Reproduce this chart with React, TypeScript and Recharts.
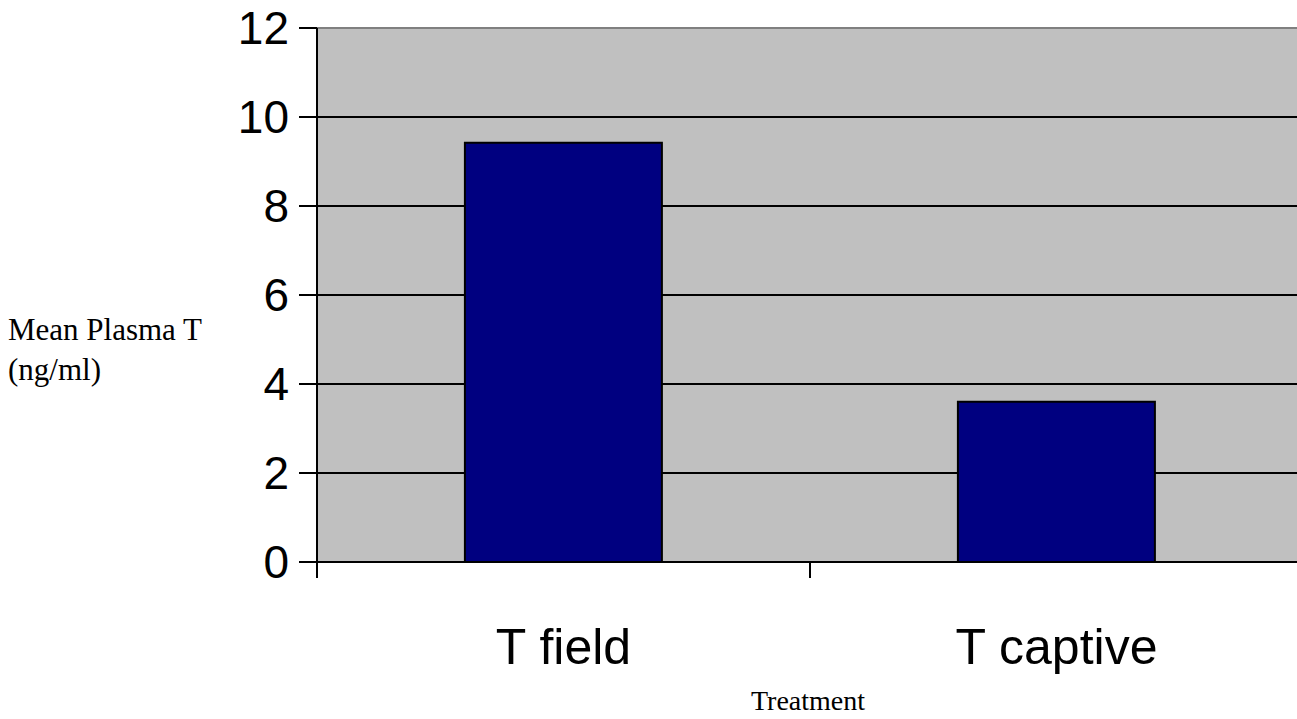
import {
  BarChart,
  Bar,
  XAxis,
  YAxis,
  CartesianGrid,
  ReferenceLine,
} from 'recharts'

const categories = ['T field', 'T captive']
const meanPlasmaT = [9.42, 3.6]
const yTicks = [0, 2, 4, 6, 8, 10, 12]

const data = categories.map((name, i) => ({ name, value: meanPlasmaT[i] }))

const serif = '"Liberation Serif", "Times New Roman", serif'
const sans = '"Liberation Sans", Arial, sans-serif'

// excel puts the x tick marks between the categories, not under them
const CategoryTick = ({ x, y, payload }: any) => {
  const half = payload?.offset ?? 0
  return (
    <g>
      <line x1={x - half} y1={y} x2={x - half} y2={y + 16} stroke="#000" strokeWidth={2} />
      <line x1={x + half} y1={y} x2={x + half} y2={y + 16} stroke="#000" strokeWidth={2} />
      <text
        x={x}
        y={y + 66}
        dy="0.71em"
        textAnchor="middle"
        fill="#000"
        fontSize={50}
        fontFamily={sans}
      >
        {payload.value}
      </text>
    </g>
  )
}

const App = () => {
  return (
    <div
      style={{
        position: 'absolute',
        left: 0,
        top: 0,
        width: 1297,
        height: 719,
        overflow: 'hidden',
        background: 'white',
      }}
    >
      <BarChart
        width={1303}
        height={719}
        data={data}
        margin={{ top: 28, right: 0, bottom: 0, left: 0 }}
        barCategoryGap="30%"
      >
        <XAxis
          dataKey="name"
          height={157}
          tickSize={0}
          tickMargin={0}
          tickLine={false}
          axisLine={{ stroke: '#000', strokeWidth: 2 }}
          tick={<CategoryTick />}
        />
        <YAxis
          domain={[0, 12]}
          ticks={yTicks}
          width={317}
          tickSize={18}
          tickMargin={10}
          axisLine={{ stroke: '#000', strokeWidth: 2 }}
          tickLine={{ stroke: '#000', strokeWidth: 2 }}
          tick={{ fill: '#000', fontSize: 46, fontFamily: sans }}
        />
        <CartesianGrid
          vertical={false}
          stroke="#000"
          strokeWidth={2}
          fill="#c0c0c0"
          fillOpacity={1}
        />
        <ReferenceLine y={12} stroke="#808080" strokeWidth={2} />
        <Bar
          dataKey="value"
          fill="#000080"
          stroke="#000"
          strokeWidth={2}
          isAnimationActive={false}
        />
      </BarChart>
      <div
        style={{
          position: 'absolute',
          left: 8,
          top: 310,
          fontFamily: serif,
          fontSize: 31,
          lineHeight: '40px',
          color: '#000',
          whiteSpace: 'nowrap',
        }}
      >
        Mean Plasma T
        <br />
        (ng/ml)
      </div>
      <div
        style={{
          position: 'absolute',
          left: 808,
          top: 686,
          transform: 'translateX(-50%)',
          fontFamily: serif,
          fontSize: 28,
          lineHeight: '30px',
          color: '#000',
          whiteSpace: 'nowrap',
        }}
      >
        Treatment
      </div>
    </div>
  )
}

export default App
